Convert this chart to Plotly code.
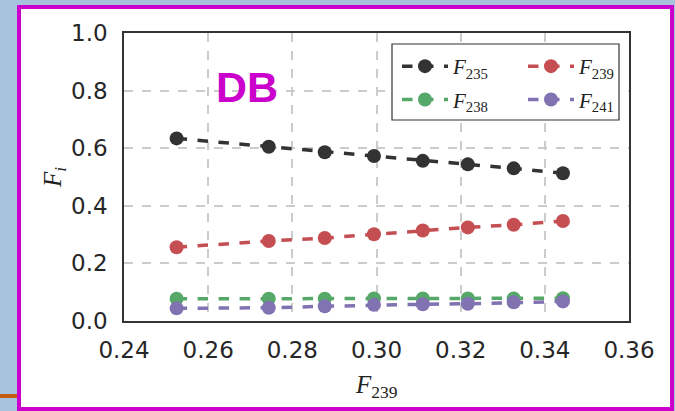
import plotly.graph_objects as go

# ---- data ----
f239_x = [0.2525, 0.2744, 0.2877, 0.2994, 0.3110, 0.3217, 0.3326, 0.3443]
F235 = [0.634, 0.605, 0.586, 0.573, 0.556, 0.544, 0.530, 0.513]
F239 = [0.256, 0.278, 0.288, 0.301, 0.314, 0.325, 0.334, 0.347]
F238 = [0.077, 0.077, 0.077, 0.078, 0.078, 0.078, 0.078, 0.079]
F241 = [0.044, 0.046, 0.051, 0.056, 0.058, 0.060, 0.065, 0.068]
x_ticks = [0.24, 0.26, 0.28, 0.30, 0.32, 0.34, 0.36]
y_ticks = [0.0, 0.2, 0.4, 0.6, 0.8, 1.0]

series = [
    ("F235", "<i>F</i><sub>235</sub>", F235, "#333333", "legend", "g1"),
    ("F239", "<i>F</i><sub>239</sub>", F239, "#c44e52", "legend2", "g2"),
    ("F238", "<i>F</i><sub>238</sub>", F238, "#55a868", "legend", "g3"),
    ("F241", "<i>F</i><sub>241</sub>", F241, "#8172b2", "legend2", "g4"),
]

fig = go.Figure()
for key, label, vals, col, leg, grp in series:
    fig.add_trace(go.Scatter(
        x=f239_x, y=vals, mode="lines+markers", name=label,
        line=dict(color=col, width=3.5, dash="dash"),
        marker=dict(color=col, size=14),
        legend=leg, legendgroup=grp,
    ))

W, H = 675, 411
L, R, T, B = 124, 46, 33, 90
pw, ph = W - L - R, H - T - B

def px(xp):
    return (xp - L) / pw

def py(yp):
    return (H - B - yp) / ph

legend_font = dict(family="Liberation Serif, Times New Roman, serif", size=21, color="#222222")
tick_font = dict(family="DejaVu Sans", size=23, color="#262626")

fig.update_layout(
    width=W, height=H,
    margin=dict(l=L, r=R, t=T, b=B),
    paper_bgcolor="#a6c2dc",
    plot_bgcolor="white",
    showlegend=True,
    legend=dict(x=px(397), y=py(46), xanchor="left", yanchor="top",
                bgcolor="rgba(0,0,0,0)", borderwidth=0, font=legend_font,
                itemwidth=46, tracegroupgap=3, orientation="v"),
    legend2=dict(x=px(523), y=py(46), xanchor="left", yanchor="top",
                 bgcolor="rgba(0,0,0,0)", borderwidth=0, font=legend_font,
                 itemwidth=46, tracegroupgap=3, orientation="v"),
    xaxis=dict(range=[0.24, 0.36], tickvals=x_ticks, tickformat=".2f",
               showgrid=True, gridcolor="#cccccc", gridwidth=1.5, griddash="dash",
               showline=True, linecolor="#333333", linewidth=1.5, mirror=True,
               ticks="outside", ticklen=8, tickcolor="rgba(0,0,0,0)",
               tickfont=tick_font, zeroline=False),
    yaxis=dict(range=[0, 1], tickvals=y_ticks, tickformat=".1f",
               showgrid=True, gridcolor="#cccccc", gridwidth=1.5, griddash="dash",
               showline=True, linecolor="#333333", linewidth=1.5, mirror=True,
               ticks="outside", ticklen=10, tickcolor="rgba(0,0,0,0)",
               tickfont=tick_font, zeroline=False),
    shapes=[
        dict(type="rect", xref="paper", yref="paper",
             x0=px(19), x1=px(672), y0=py(409), y1=py(7),
             line=dict(color="#cc00cc", width=4), fillcolor="white", layer="below"),
        dict(type="line", xref="paper", yref="paper",
             x0=px(0), x1=px(17), y0=py(396), y1=py(396),
             line=dict(color="#c55a11", width=4), layer="below"),
        dict(type="rect", xref="paper", yref="paper",
             x0=px(392), x1=px(619), y0=py(120), y1=py(44),
             line=dict(color="#333333", width=1.2), fillcolor="white", layer="above"),
    ],
    annotations=[
        dict(text="<b>DB</b>", x=0.2693, y=0.8125, xref="x", yref="y",
             xanchor="center", yanchor="middle",
             showarrow=False, font=dict(family="Liberation Sans, Arial", size=43, color="#cc00cc")),
        dict(text="<i>F</i><sub>239</sub>", x=px(376), y=py(386), xref="paper", yref="paper",
             xanchor="center", yanchor="middle",
             showarrow=False, font=dict(family="Liberation Serif, serif", size=25, color="#222222")),
        dict(text="<i>F<sub>i</sub></i>", x=px(54), y=py(178), xref="paper", yref="paper",
             xanchor="center", yanchor="middle",
             textangle=-90, showarrow=False,
             font=dict(family="Liberation Serif, serif", size=25, color="#222222")),
    ],
)

fig.write_html(
    "out.html",
    config={"displayModeBar": False},
    post_script="document.body.style.margin='0';document.body.style.overflow='hidden';document.body.style.background='#a6c2dc';",
)
